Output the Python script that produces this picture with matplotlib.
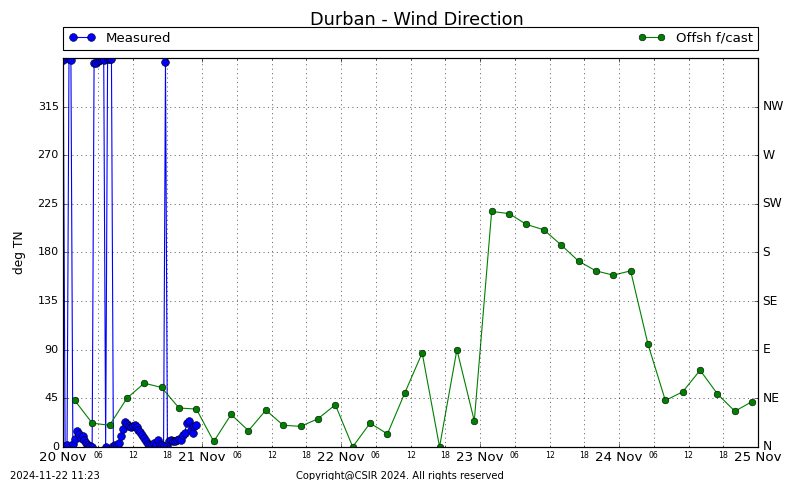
import numpy as np
import pandas as pd
import matplotlib
matplotlib.use('Agg')
import matplotlib.pyplot as plt
import matplotlib.dates as mdates

# measured wind direction, 20 min samples from 20 Nov 00:00
meas_dir = [358, 1, 2, 359, 358, 3, 7, 15, 12, 8,
            10, 6, 4, 2, 1, 0, 355, 355, 357, 358,
            359, 358, 0, 359, 359, 359, 1, 2, 1, 4,
            10, 17, 23, 21, 19, 18, 19, 20, 18, 16,
            14, 11, 8, 5, 3, 2, 2, 4, 2, 6,
            3, 2, 1, 356, 1, 5, 6, 5, 5, 6,
            7, 6, 11, 13, 22, 24, 16, 13, 19, 20]
meas_time = pd.date_range('2024-11-20 00:00', periods=len(meas_dir), freq='20min')

# offshore forecast, 3 hourly from 20 Nov 02:00
fc_dir = [43, 22, 20, 45, 59, 55, 36, 35, 5, 30,
          15, 34, 20, 19, 26, 39, 0, 22, 12, 50,
          87, 0, 90, 24, 218, 216, 206, 201, 187, 172,
          163, 159, 163, 95, 43, 51, 71, 49, 33, 42]
fc_time = pd.date_range('2024-11-20 02:00', periods=len(fc_dir), freq='3h')

compass = ['N', 'NE', 'E', 'SE', 'S', 'SW', 'W', 'NW']
yticks = [0, 45, 90, 135, 180, 225, 270, 315]

plt.style.use('classic')
fig = plt.figure(figsize=(10, 6), dpi=80, facecolor='white')
ax = fig.add_axes([0.079, 0.069, 0.8685, 0.81])

ax.plot(meas_time, meas_dir, 'o-', color='blue', lw=1, ms=7, label='Measured')
ax.plot(fc_time, fc_dir, 'o-', color='green', lw=1, ms=6, label='Offsh f/cast')

ax.set_ylim(0, 360)
ax.set_yticks(yticks)
ax.set_xlim(pd.Timestamp('2024-11-20'), pd.Timestamp('2024-11-25'))
ax.xaxis.set_major_locator(mdates.DayLocator())
ax.xaxis.set_major_formatter(mdates.DateFormatter('%d %b'))
ax.xaxis.set_minor_locator(mdates.HourLocator(byhour=[6, 12, 18]))
ax.xaxis.set_minor_formatter(mdates.DateFormatter('%H'))
ax.tick_params(axis='x', which='minor', labelsize=7)
ax.tick_params(axis='x', which='major', labelsize=12)
ax.tick_params(axis='y', labelsize=10)
ax.grid(True, which='both', axis='both')
ax.set_ylabel('deg TN', fontsize=11, labelpad=10)

ax2 = ax.twinx()
ax2.set_ylim(0, 360)
ax2.set_yticks(yticks)
ax2.set_yticklabels(compass, fontsize=11)

ax.legend(bbox_to_anchor=(0., 1.02, 1., .062), loc='lower left', ncol=2,
          mode='expand', borderaxespad=0., fontsize=12, numpoints=2)
fig.suptitle('Durban - Wind Direction', fontsize=16, x=0.521, y=0.978)

fig.text(0.012, 0.002, '2024-11-22 11:23', fontsize=9)
fig.text(0.5, 0.002, 'Copyright@CSIR 2024. All rights reserved', fontsize=9, ha='center')

fig.savefig('out.png', dpi=80, facecolor='white')
